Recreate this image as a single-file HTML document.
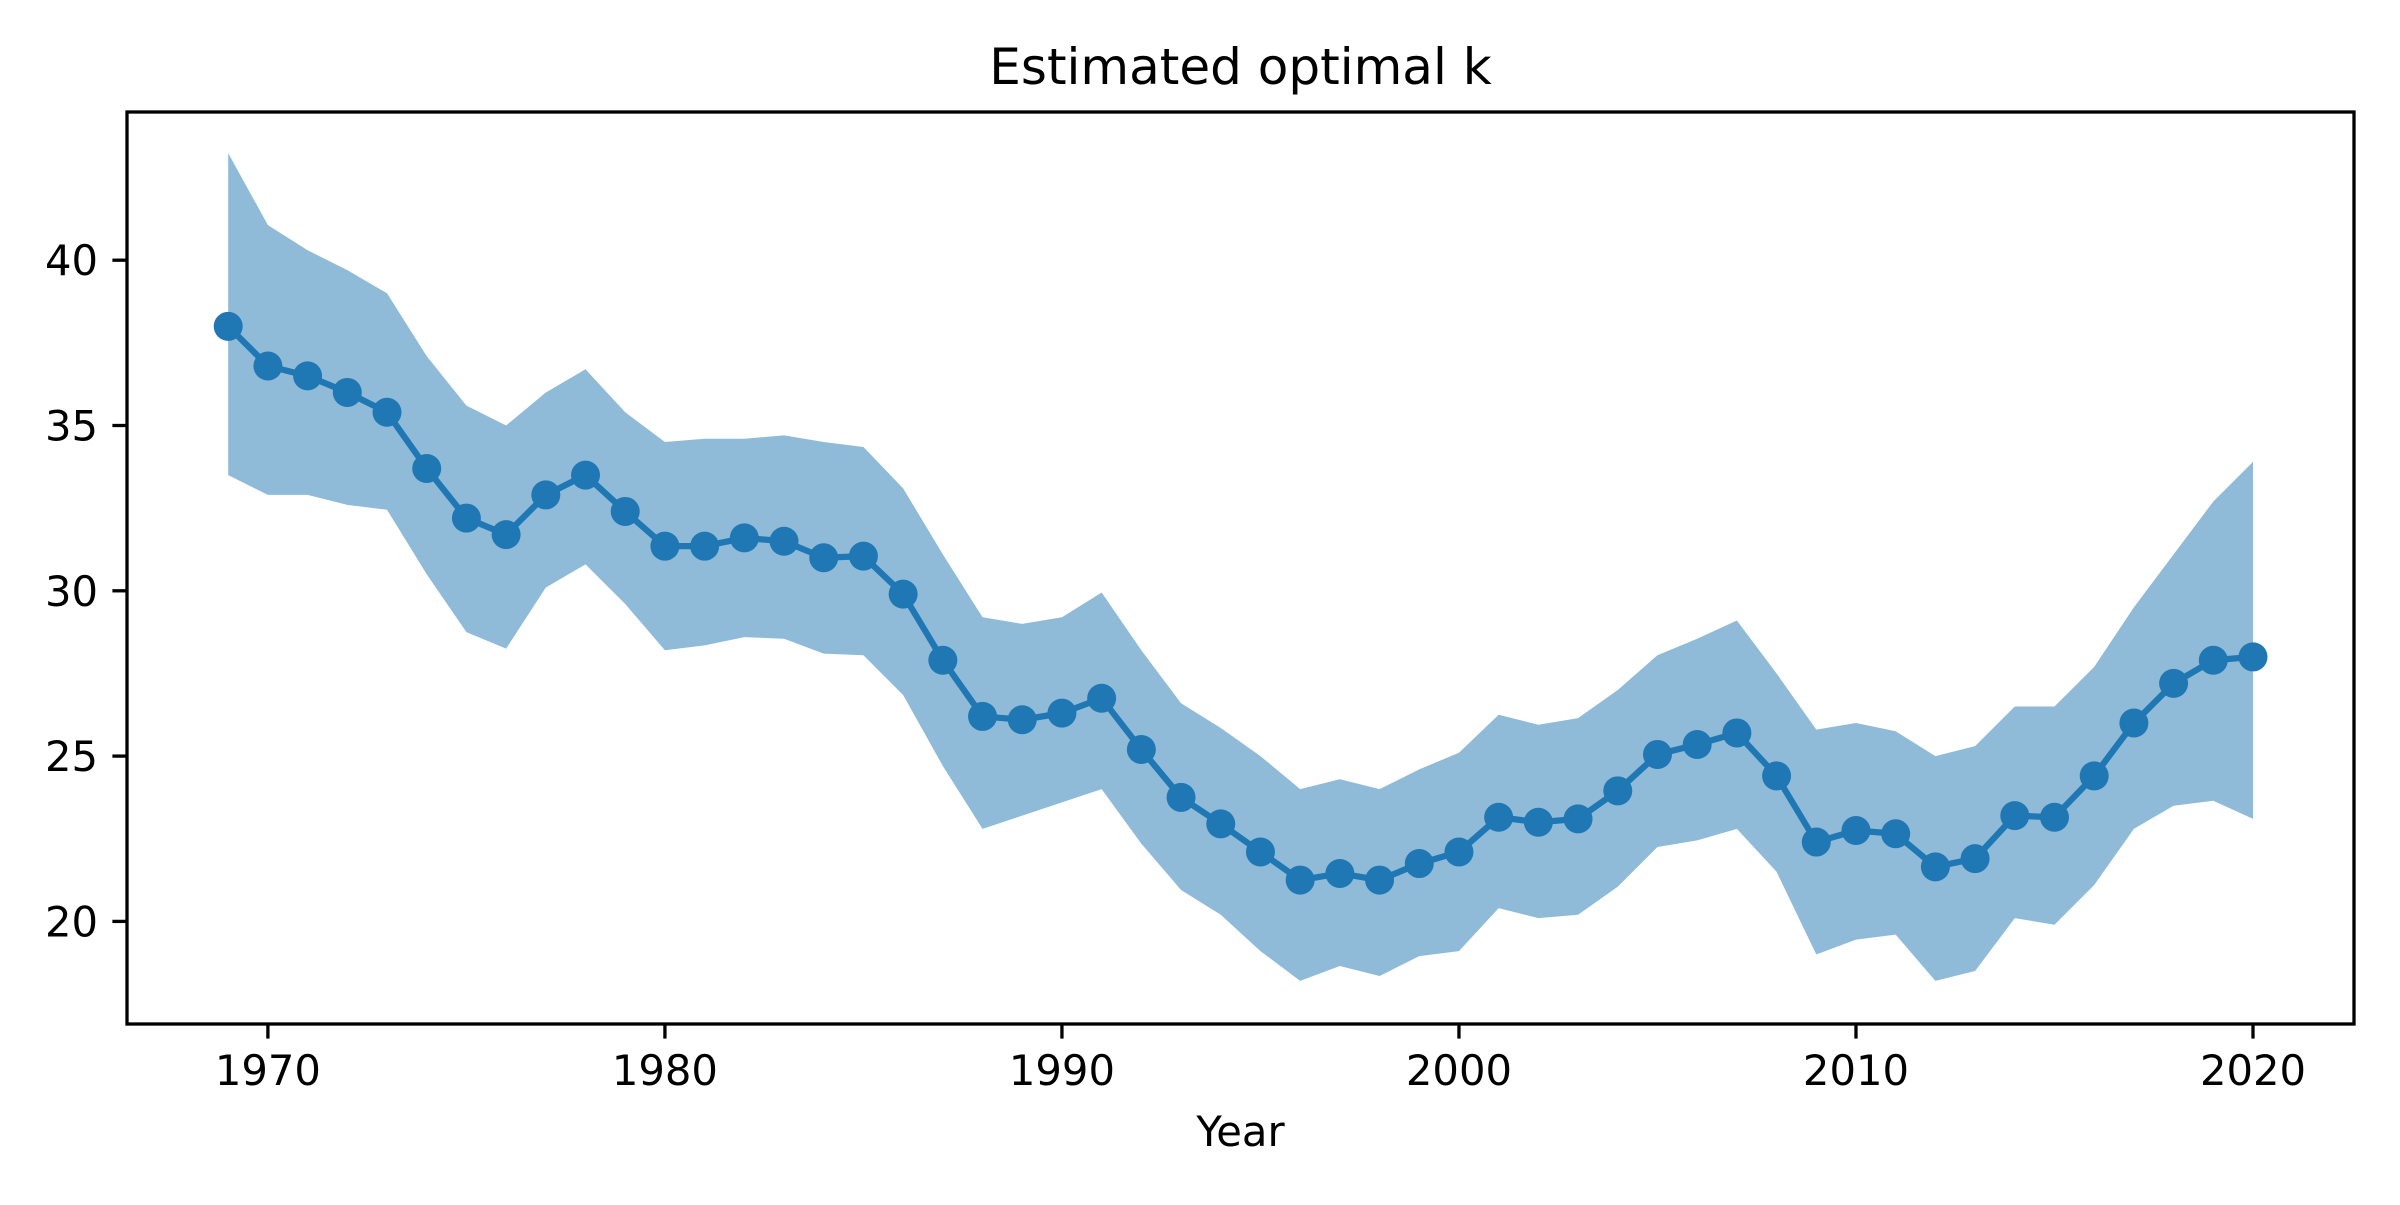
<!DOCTYPE html>
<html><head><meta charset="utf-8"><style>
html,body{margin:0;padding:0;background:#fff;}
svg text{font-family:"DejaVu Sans","Liberation Sans",sans-serif;fill:#000;}
</style></head><body>
<svg id="chart" width="2400" height="1200" xmlns="http://www.w3.org/2000/svg">
<rect width="2400" height="1200" fill="#fff"/>
<g id="band"></g><g id="line"></g><g id="marks"></g><g id="axes"></g>
</svg>
<script>
const years=[1969,1970,1971,1972,1973,1974,1975,1976,1977,1978,1979,1980,1981,1982,1983,1984,1985,1986,1987,1988,1989,1990,1991,1992,1993,1994,1995,1996,1997,1998,1999,2000,2001,2002,2003,2004,2005,2006,2007,2008,2009,2010,2011,2012,2013,2014,2015,2016,2017,2018,2019,2020];
const meanK=[38.0,36.8,36.5,36.0,35.4,33.7,32.2,31.7,32.9,33.5,32.4,31.35,31.35,31.6,31.5,31.0,31.05,29.9,27.9,26.2,26.1,26.3,26.75,25.2,23.75,22.95,22.1,21.25,21.45,21.25,21.75,22.1,23.15,23.0,23.1,23.95,25.05,25.35,25.7,24.4,22.4,22.75,22.65,21.65,21.9,23.2,23.15,24.4,26.0,27.2,27.9,28.0];
const upperK=[43.24,41.06,40.3,39.7,39.0,37.1,35.6,35.0,36.0,36.7,35.4,34.5,34.6,34.6,34.7,34.5,34.35,33.1,31.1,29.2,29.0,29.2,29.95,28.2,26.6,25.85,25.0,24.0,24.3,24.0,24.6,25.1,26.25,25.95,26.15,27.0,28.05,28.55,29.1,27.5,25.8,26.0,25.75,25.0,25.3,26.5,26.5,27.7,29.5,31.1,32.7,33.9];
const lowerK=[33.5,32.9,32.9,32.6,32.45,30.5,28.75,28.25,30.1,30.8,29.6,28.2,28.35,28.6,28.55,28.1,28.05,26.85,24.7,22.8,23.2,23.6,24.0,22.35,20.95,20.2,19.1,18.2,18.65,18.35,18.95,19.1,20.4,20.1,20.2,21.05,22.25,22.45,22.8,21.5,19.0,19.45,19.6,18.2,18.5,20.1,19.9,21.1,22.8,23.5,23.65,23.1];
const xTicks=[1970,1980,1990,2000,2010,2020];
const yTicks=[20,25,30,35,40];

const L=127,R=2354,T=112,B=1024;
function xs(v){return 267.9+(v-1970)*(2253-267.9)/50;}
function ys(v){return 921.4-(v-20)*(921.4-260.2)/20;}
const NS="http://www.w3.org/2000/svg";
function mk(tag,attrs,parent){const e=document.createElementNS(NS,tag);for(const k in attrs)e.setAttribute(k,attrs[k]);parent.appendChild(e);return e;}

let d="";
years.forEach((y,i)=>{d+=(i?"L":"M")+xs(y)+","+ys(upperK[i]);});
for(let i=years.length-1;i>=0;i--)d+="L"+xs(years[i])+","+ys(lowerK[i]);
d+="Z";
const band=mk("path",{d:d,fill:"#1f77b4","fill-opacity":"0.5",stroke:"none"},document.getElementById("band"));



let ld="";years.forEach((y,i)=>{ld+=(i?"L":"M")+xs(y)+","+ys(meanK[i]);});
const line=mk("path",{d:ld,fill:"none",stroke:"#1f77b4","stroke-width":"6.25","stroke-linejoin":"round"},document.getElementById("line"));



const mg=document.getElementById("marks");
years.forEach((y,i)=>{
 const c=mk("circle",{cx:xs(y),cy:ys(meanK[i]),r:"14.5",fill:"#1f77b4"},mg);
 
 
});

const ax=document.getElementById("axes");
const fr=mk("rect",{x:L,y:T,width:R-L,height:B-T,fill:"none",stroke:"#000","stroke-width":"3.3"},ax);


xTicks.forEach(t=>{
 const x=xs(t);
 mk("line",{x1:x,x2:x,y1:B,y2:B+14.6,stroke:"#000","stroke-width":"3.3"},ax);
 const tx=mk("text",{x:x,y:1085,"text-anchor":"middle","font-size":"41.7"},ax);
 tx.textContent=t;
 
 
});
yTicks.forEach(t=>{
 const y=ys(t);
 mk("line",{x1:L-14.6,x2:L,y1:y,y2:y,stroke:"#000","stroke-width":"3.3"},ax);
 const tx=mk("text",{x:L-29,y:y+15,"text-anchor":"end","font-size":"41.7"},ax);
 tx.textContent=t;
 
 
});
const xl=mk("text",{x:(L+R)/2,y:1146,"text-anchor":"middle","font-size":"41.7"},ax);
xl.textContent="Year";


const ti=mk("text",{x:(L+R)/2,y:84,"text-anchor":"middle","font-size":"50"},ax);
ti.textContent="Estimated optimal k";


</script>
</body></html>
